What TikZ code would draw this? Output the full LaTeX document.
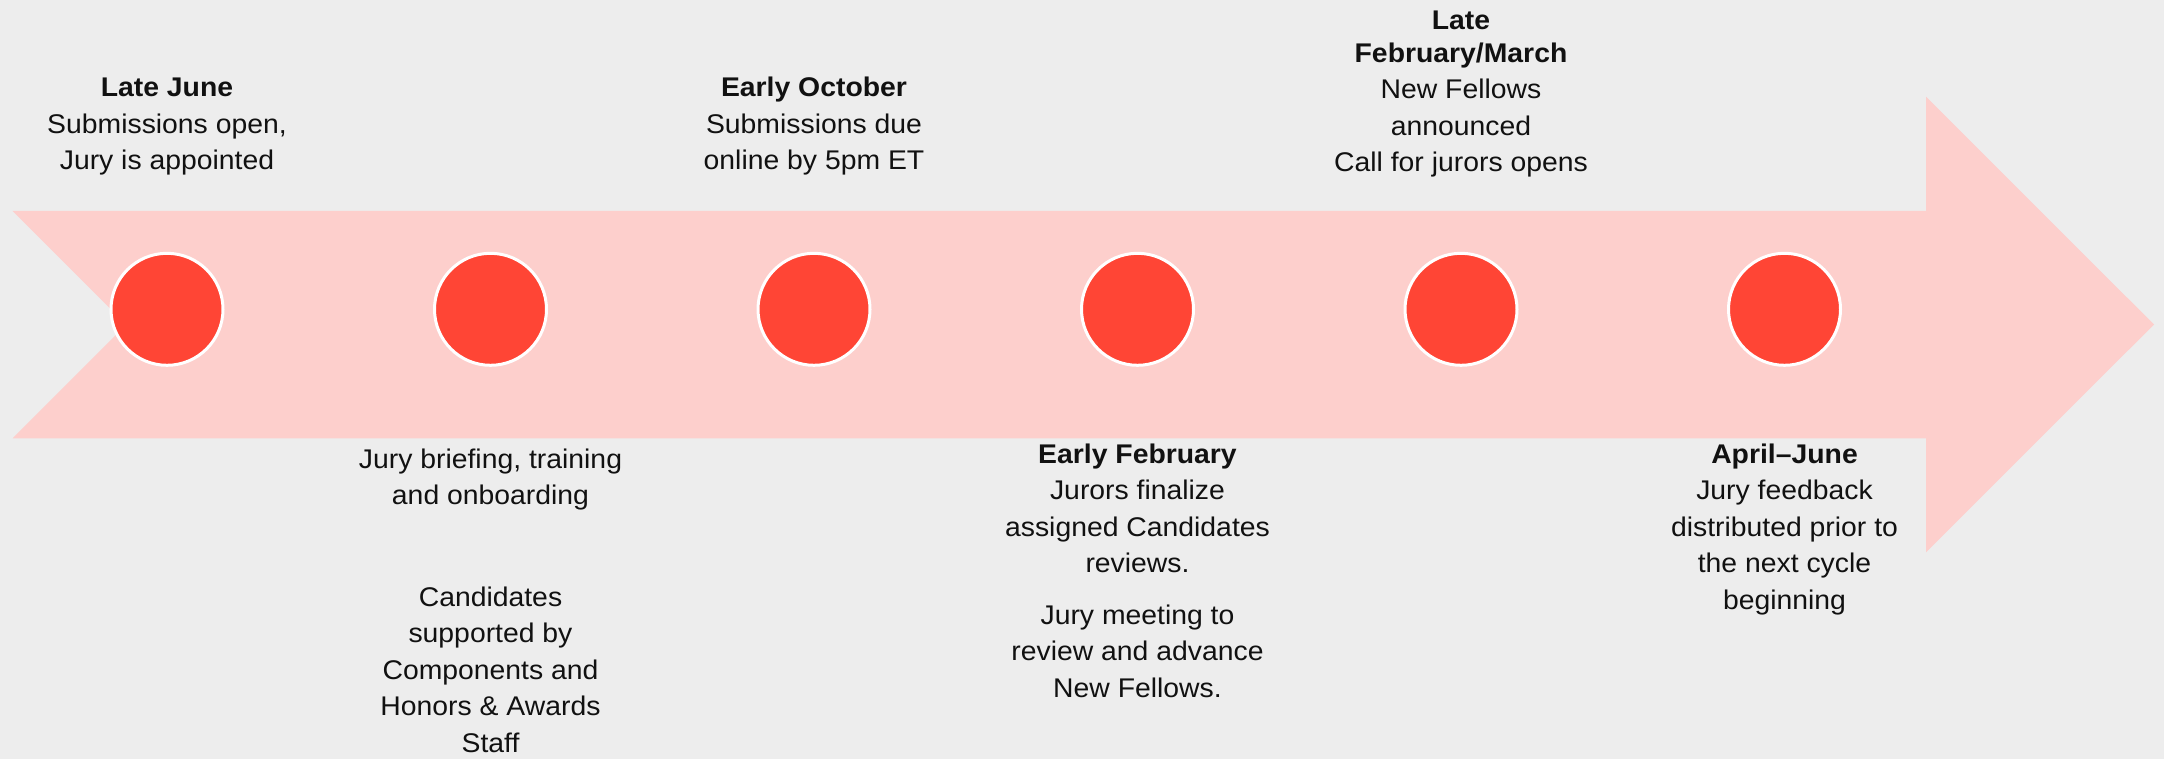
\documentclass[tikz,border=0pt]{standalone}
\usepackage{fontspec}
\setmainfont[FakeStretch=1.05]{Liberation Sans}
\definecolor{bgc}{HTML}{EDEDED}
\definecolor{arrowc}{HTML}{FDCFCC}
\definecolor{dotc}{HTML}{FF4535}
\definecolor{txtc}{HTML}{111111}
\tikzset{
  dot/.style={circle, fill=dotc, draw=white, line width=3pt, minimum size=112pt, inner sep=0pt},
  txt/.style={anchor=base, inner sep=0pt, outer sep=0pt, text=txtc, font=\fontsize{27}{36.5}\selectfont}
}
\newcommand{\tl}[1]{\begin{tabular}[t]{@{}c@{}}#1\end{tabular}}
\begin{document}
\begin{tikzpicture}[x=1pt,y=-1pt]
\useasboundingbox (0,0) rectangle (2164,759);
\fill[bgc] (0,0) rectangle (2164,759);
% arrow band
\fill[arrowc] (12.7,211) -- (1926,211) -- (1926,96.7) -- (2154,324.5) -- (1926,552.3) -- (1926,438.3) -- (12.7,438.3) -- (126.2,324.6) -- cycle;
% dots
\node[dot] (d1) at (167,309.3) {};
\node[dot] (d2) at (490.5,309.3) {};
\node[dot] (d3) at (814,309.3) {};
\node[dot] (d4) at (1137.5,309.3) {};
\node[dot] (d5) at (1461,309.3) {};
\node[dot] (d6) at (1784.5,309.3) {};
% texts above
\node[txt] (t1) at (167,97) {\tl{\textbf{Late June}\\ Submissions open,\\ Jury is appointed}};
\node[txt] (t3) at (814,97) {\tl{\textbf{Early October}\\ Submissions due\\ online by 5pm ET}};
\node[txt] (t5) at (1461,30) {\tl{\textbf{Late}\\[-4pt] \textbf{February/March}\\ New Fellows\\ announced\\ Call for jurors opens}};
% texts below
\node[txt] (t2) at (490.5,468) {\tl{Jury briefing, training\\ and onboarding\\[65pt] Candidates\\ supported by\\ Components and\\ Honors \& Awards\\ Staff}};
\node[txt] (t4) at (1137.5,463.3) {\tl{\textbf{Early February}\\ Jurors finalize\\ assigned Candidates\\ reviews.\\[15pt] Jury meeting to\\ review and advance\\ New Fellows.}};
\node[txt] (t6) at (1784.5,463.3) {\tl{\textbf{April–June}\\ Jury feedback\\ distributed prior to\\ the next cycle\\ beginning}};
\end{tikzpicture}
\end{document}
